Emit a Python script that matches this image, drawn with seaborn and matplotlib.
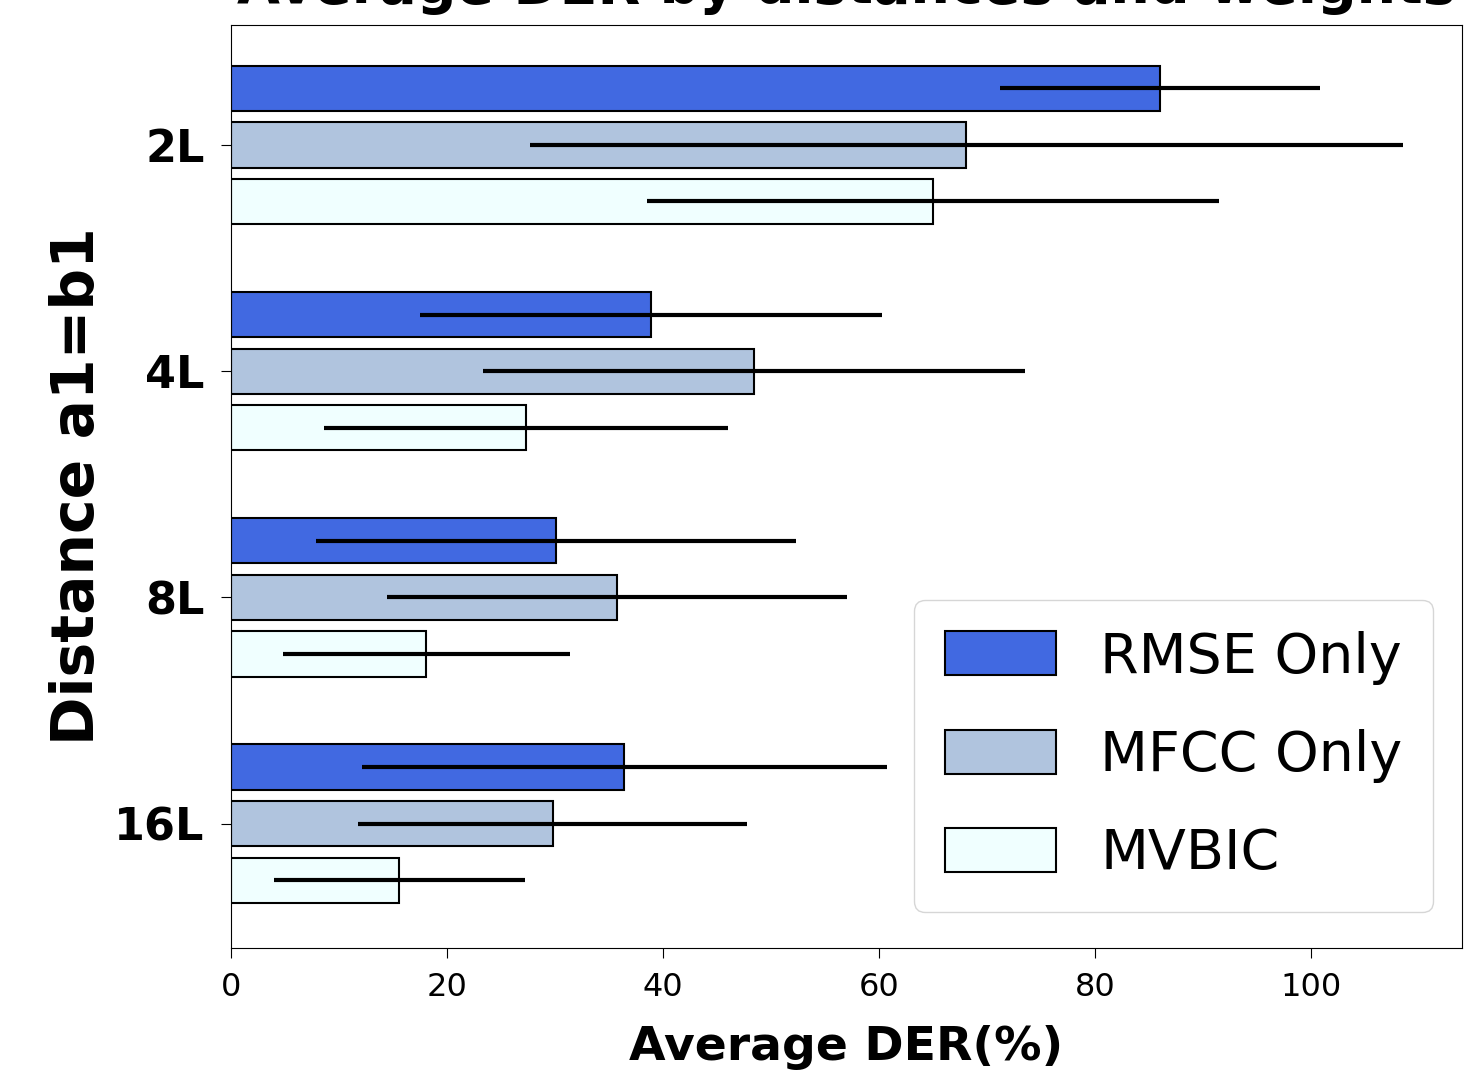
import pandas as pd
import matplotlib
matplotlib.use('Agg')
import matplotlib.pyplot as plt
import seaborn as sns

# values
distances = ['2L', '4L', '8L', '16L']
methods = ['RMSE Only', 'MFCC Only', 'MVBIC']
rmse_mean = [86.0, 38.9, 30.1, 36.4]
rmse_err = [14.8, 21.4, 22.2, 24.3]
mfcc_mean = [68.1, 48.4, 35.7, 29.8]
mfcc_err = [40.4, 25.1, 21.3, 18.0]
mvbic_mean = [65.0, 27.3, 18.1, 15.6]
mvbic_err = [26.5, 18.7, 13.3, 11.6]
colors = ['royalblue', 'lightsteelblue', 'azure']

means = [rmse_mean, mfcc_mean, mvbic_mean]
errs = [rmse_err, mfcc_err, mvbic_err]

rows = []
for m, vals in zip(methods, means):
    for d, v in zip(distances, vals):
        rows.append({'distance': d, 'method': m, 'der': v})
df = pd.DataFrame(rows)

fig, ax = plt.subplots(figsize=(14.65, 10.78), dpi=100)
fig.subplots_adjust(left=0.1577, right=0.998, top=0.9768, bottom=0.1206)

sns.barplot(data=df, y='distance', x='der', hue='method', orient='h',
            order=distances, hue_order=methods, palette=colors,
            saturation=1, width=0.75, gap=0.2, edgecolor='black',
            linewidth=1.5, errorbar=None, ax=ax)

# error bars from the drawn bars
for container, err in zip(ax.containers, errs):
    for bar, e in zip(container, err):
        yc = bar.get_y() + bar.get_height() / 2
        ax.errorbar(bar.get_width(), yc, xerr=e, fmt='none',
                    ecolor='black', elinewidth=3, capsize=0, zorder=5)

ax.set_xlim(0, 114)
ax.set_ylim(3.55, -0.53)

# title is mostly cut off at the top, as in the original
ax.set_title('Average DER by distances and weights', fontsize=40,
             fontweight='bold', pad=16)
ax.set_xlabel('Average DER(%)', fontsize=34, fontweight='bold', labelpad=16)
ax.set_ylabel('Distance a1=b1', fontsize=42, fontweight='bold', labelpad=6)

ax.tick_params(axis='x', labelsize=23, length=7, pad=10)
ax.tick_params(axis='y', labelsize=32, length=7, pad=12)
for lbl in ax.get_yticklabels():
    lbl.set_fontweight('bold')

handles, labels = ax.get_legend_handles_labels()
ax.legend(handles, labels, loc='lower right', bbox_to_anchor=(0.9764, 0.039),
          borderaxespad=0, fontsize=40, handlelength=2.0, handleheight=0.85,
          labelspacing=0.8, borderpad=0.55)

plt.savefig('out.png', dpi=100)
plt.close()
